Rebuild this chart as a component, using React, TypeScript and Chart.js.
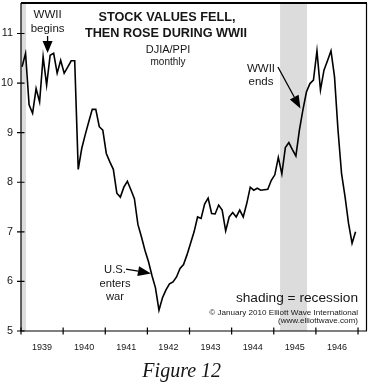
import React, { useEffect, useRef } from 'react';
import { Chart, registerables } from 'chart.js';

Chart.register(...registerables);

// DJIA / PPI, monthly values
const years = [1939, 1940, 1941, 1942, 1943, 1944, 1945, 1946];
const values1939 = [10.33, 10.6, 9.56, 9.39, 9.89, 9.62, 10.53, 9.96, 10.56, 10.6, 10.2, 10.46];
const values1940 = [10.2, 10.32, 10.45, 10.45, 8.26, 8.68, 8.96, 9.22, 9.47, 9.47, 9.12, 9.05];
const values1941 = [8.58, 8.41, 8.26, 7.78, 7.7, 7.9, 8.02, 7.85, 7.67, 7.15, 6.9, 6.63];
const values1942 = [6.4, 6.12, 5.87, 5.42, 5.67, 5.83, 5.95, 5.99, 6.09, 6.26, 6.34, 6.54];
const values1943 = [6.77, 7.0, 7.3, 7.27, 7.56, 7.68, 7.37, 7.36, 7.54, 7.44, 7.02, 7.3];
const values1944 = [7.39, 7.3, 7.44, 7.3, 7.57, 7.9, 7.84, 7.88, 7.84, 7.85, 7.86, 8.04];
const values1945 = [8.15, 8.5, 8.17, 8.7, 8.8, 8.66, 8.53, 9.05, 9.46, 9.82, 9.99, 10.06];
const values1946 = [10.65, 9.86, 10.26, 10.45, 10.65, 10.13, 9.05, 8.18, 7.71, 7.17, 6.77, 7.0];
const seriesByYear = [values1939, values1940, values1941, values1942, values1943, values1944, values1945, values1946];

const xTickYears = [1939, 1940, 1941, 1942, 1943, 1944, 1945, 1946, 1947];
const yTickValues = [5, 6, 7, 8, 9, 10, 11];

// recessions (decimal years)
const recessionStarts = [1938.5, 1945.15];
const recessionEnds = [1939.12, 1945.79];

const X_MIN = 1939;
const X_MAX = 1947.213;
const Y_MIN = 5;
const Y_MAX = 11.615;
const MONTH_OFFSET = 0.3;

const SANS = '"Liberation Sans", Arial, Helvetica, sans-serif';
const SERIF = '"Liberation Serif", "Times New Roman", serif';
const INK = '#161616';

function buildPoints() {
  const pts: { x: number; y: number }[] = [];
  years.forEach((yr, i) => {
    seriesByYear[i].forEach((v, m) => {
      pts.push({ x: yr + (m + MONTH_OFFSET) / 12, y: v });
    });
  });
  return pts;
}

function drawArrow(ctx: CanvasRenderingContext2D, x1: number, y1: number, x2: number, y2: number, headLen: number, headW: number, lw: number) {
  const ang = Math.atan2(y2 - y1, x2 - x1);
  const bx = x2 - headLen * Math.cos(ang);
  const by = y2 - headLen * Math.sin(ang);
  ctx.beginPath();
  ctx.moveTo(x1, y1);
  ctx.lineTo(bx, by);
  ctx.lineWidth = lw;
  ctx.stroke();
  ctx.beginPath();
  ctx.moveTo(x2, y2);
  ctx.lineTo(bx + (headW / 2) * Math.sin(ang), by - (headW / 2) * Math.cos(ang));
  ctx.lineTo(bx - (headW / 2) * Math.sin(ang), by + (headW / 2) * Math.cos(ang));
  ctx.closePath();
  ctx.fill();
}

const overlayPlugin = {
  id: 'overlay',
  beforeDatasetsDraw(chart: any) {
    const { ctx, chartArea } = chart;
    const xs = chart.scales.x;
    ctx.save();
    ctx.fillStyle = '#dcdcdc';
    for (let i = 0; i < recessionStarts.length; i++) {
      const x0 = Math.max(xs.getPixelForValue(recessionStarts[i]), chartArea.left);
      const x1 = Math.min(xs.getPixelForValue(recessionEnds[i]), chartArea.right);
      ctx.fillRect(x0, chartArea.top, x1 - x0, chartArea.bottom - chartArea.top);
    }
    ctx.restore();
  },
  afterDraw(chart: any) {
    const { ctx, chartArea } = chart;
    const xs = chart.scales.x;
    const ys = chart.scales.y;
    const { left, right, top, bottom } = chartArea;
    ctx.save();
    ctx.strokeStyle = '#000';
    ctx.fillStyle = '#000';

    // frame
    ctx.lineWidth = 1.2;
    ctx.beginPath();
    ctx.moveTo(left, top);
    ctx.lineTo(left, bottom);
    ctx.lineTo(right, bottom);
    ctx.moveTo(right - 0.5, top);
    ctx.lineTo(right - 0.5, bottom);
    ctx.stroke();
    ctx.lineWidth = 2;
    ctx.beginPath();
    ctx.moveTo(left, top);
    ctx.lineTo(right, top);
    ctx.stroke();

    // ticks crossing axes
    ctx.lineWidth = 1.2;
    ctx.beginPath();
    xs.ticks.forEach((t: any) => {
      const px = xs.getPixelForValue(t.value);
      ctx.moveTo(px, bottom - 3.5);
      ctx.lineTo(px, bottom + 3.5);
    });
    ys.ticks.forEach((t: any) => {
      const py = ys.getPixelForValue(t.value);
      ctx.moveTo(left - 4, py);
      ctx.lineTo(left + 3.5, py);
    });
    ctx.stroke();

    // title block
    ctx.fillStyle = INK;
    ctx.textAlign = 'center';
    ctx.textBaseline = 'alphabetic';
    ctx.font = `bold 12.7px ${SANS}`;
    ctx.fillText('STOCK VALUES FELL,', 167, 20.7);
    ctx.fillText('THEN ROSE DURING WWII', 166, 37);
    ctx.font = `11px ${SANS}`;
    ctx.fillText('DJIA/PPI', 168, 52.5);
    ctx.font = `10px ${SANS}`;
    ctx.fillText('monthly', 168, 65);

    // WWII begins
    ctx.font = `11.5px ${SANS}`;
    ctx.fillText('WWII', 47.6, 18.3);
    ctx.fillText('begins', 47.6, 31.7);
    ctx.fillStyle = '#000';
    drawArrow(ctx, xs.getPixelForValue(1939.631), ys.getPixelForValue(10.95), xs.getPixelForValue(1939.631), ys.getPixelForValue(10.607), 12, 10, 1.3);

    // WWII ends
    ctx.fillStyle = INK;
    ctx.fillText('WWII', 261, 71.7);
    ctx.fillText('ends', 261, 85);
    ctx.fillStyle = '#000';
    drawArrow(ctx, xs.getPixelForValue(1945.099), ys.getPixelForValue(10.325), xs.getPixelForValue(1945.633), ys.getPixelForValue(9.488), 13, 10, 1.3);

    // U.S. enters war
    ctx.fillStyle = INK;
    ctx.font = `11.2px ${SANS}`;
    ctx.fillText('U.S.', 115, 273.3);
    ctx.fillText('enters', 115, 286.7);
    ctx.fillText('war', 115, 300);
    ctx.fillStyle = '#000';
    drawArrow(ctx, xs.getPixelForValue(1941.492), ys.getPixelForValue(6.25), xs.getPixelForValue(1942.085), ys.getPixelForValue(6.16), 13, 10, 1.3);

    // legend/credits
    ctx.fillStyle = INK;
    ctx.textAlign = 'right';
    ctx.font = `13.7px ${SANS}`;
    ctx.fillText('shading = recession', 358, 302);
    ctx.font = `8.1px ${SANS}`;
    ctx.fillText('\u00A9 January 2010 Elliott Wave International', 358, 314.5);
    ctx.fillText('(www.elliottwave.com)', 358, 323);

    // figure caption
    ctx.textAlign = 'center';
    ctx.font = `italic 20px ${SERIF}`;
    ctx.fillText('Figure 12', 181.7, 377);
    ctx.restore();
  },
};

export default function App() {
  const ref = useRef<HTMLCanvasElement>(null);
  useEffect(() => {
    if (!ref.current) return;
    const chart = new Chart(ref.current, {
      type: 'line',
      data: {
        datasets: [
          {
            data: buildPoints(),
            borderColor: '#000',
            borderWidth: 1.6,
            pointRadius: 0,
            tension: 0,
            fill: false,
          },
        ],
      },
      options: {
        animation: false,
        responsive: false,
        maintainAspectRatio: false,
        devicePixelRatio: 1,
        layout: { padding: { left: 0, right: 4, top: 3, bottom: 0 } },
        plugins: { legend: { display: false }, tooltip: { enabled: false }, title: { display: false } },
        scales: {
          x: {
            type: 'linear',
            min: X_MIN,
            max: X_MAX,
            afterBuildTicks: (s: any) => {
              s.ticks = xTickYears.map((v) => ({ value: v }));
            },
            afterFit: (s: any) => {
              s.height = 54;
              s.paddingLeft = 0;
              s.paddingRight = 0;
              s.paddingTop = 0;
              s.paddingBottom = 0;
            },
            ticks: {
              autoSkip: false,
              maxRotation: 0,
              minRotation: 0,
              labelOffset: 21,
              padding: 11.5,
              color: INK,
              font: { family: SANS, size: 9 },
              callback: (v: any) => (v < 1947 ? String(v) : ''),
            },
            grid: { display: false, drawTicks: false, tickLength: 0 },
            border: { display: false },
          },
          y: {
            type: 'linear',
            min: Y_MIN,
            max: Y_MAX,
            afterBuildTicks: (s: any) => {
              s.ticks = yTickValues.map((v) => ({ value: v }));
            },
            afterFit: (s: any) => {
              s.width = 21;
              s.paddingLeft = 0;
              s.paddingRight = 0;
              s.paddingTop = 0;
              s.paddingBottom = 0;
            },
            ticks: {
              padding: 8,
              color: INK,
              font: { family: SANS, size: 10.8 },
              callback: (v: any) => String(v),
            },
            grid: { display: false, drawTicks: false, tickLength: 0 },
            border: { display: false },
          },
        },
      },
      plugins: [overlayPlugin],
    } as any);
    return () => chart.destroy();
  }, []);
  return (
    <div style={{ position: 'absolute', left: 0, top: 0, width: 371, height: 385, background: '#fff' }}>
      <canvas ref={ref} width={371} height={385} style={{ display: 'block', width: 371, height: 385 }} />
    </div>
  );
}
